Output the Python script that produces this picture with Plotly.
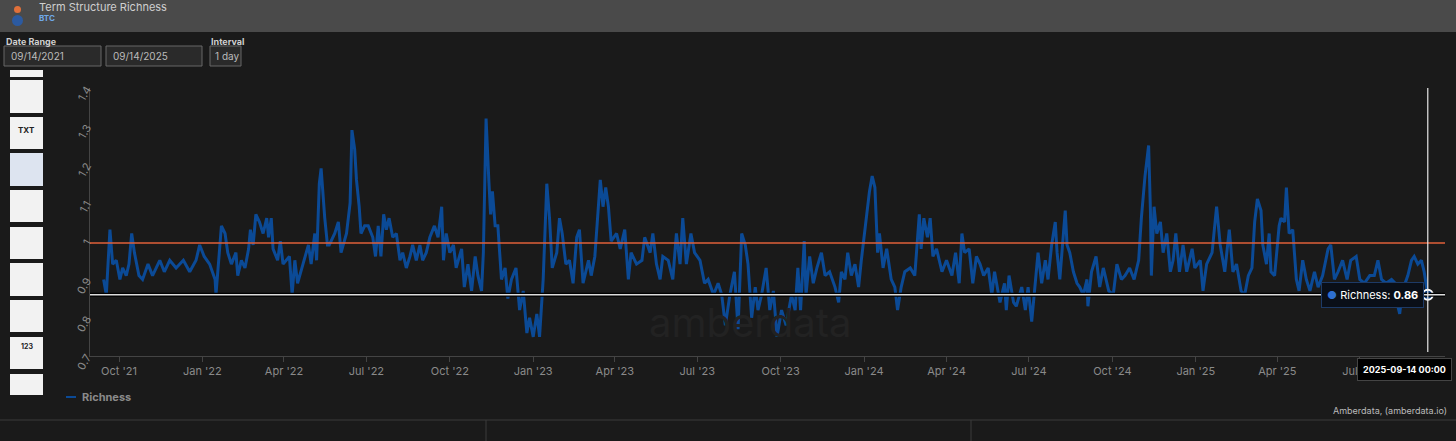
import pandas as pd
import plotly.graph_objects as go

start_date = "2021-09-14"
days = [0,3,7,10,14,18,21,25,28,31,34,39,43,49,54,62,67,73,80,88,95,102,106,111,117,123,124,130,134,137,141,146,148,152,156,160,162,165,168,172,176,180,182,185,187,192,195,198,205,208,211,214,220,226,229,233,235,238,240,244,247,
 249,255,259,262,268,272,274,277,279,282,284,288,292,297,300,303,306,309,312,315,319,323,327,330,334,338,341,345,349,352,356,360,365,369,373,375,378,382,386,389,395,398,402,406,410,413,417,419,422,425,427,429,432,435,439,443,446,450,455,459,463,467,470,474,478,481,485,489,492,495,
 500,503,506,510,514,518,522,525,529,535,538,542,548,551,554,557,560,566,570,575,579,582,588,594,597,603,606,610,614,617,623,628,632,636,639,643,648,652,658,663,667,673,678,682,686,691,696,700,704,708,711,715,719,722,726,731,735,739,743,748,
 753,759,763,766,769,773,775,779,783,787,792,796,801,807,811,814,818,821,825,829,833,836,841,845,848,851,854,856,860,864,869,873,876,880,884,890,895,900,902,905,909,912,915,919,925,930,936,940,944,947,950,955,959,963,967,971,976,980,983,989,994,996,999,1004,
 1007,1013,1017,1020,1024,1029,1031,1035,1039,1042,1046,1050,1052,1055,1061,1063,1066,1070,1074,1077,1081,1085,1086,1090,1095,1099,1103,1109,1114,1118,1123,1127,1132,1137,1142,1145,1149,1153,1155,1156,1159,1162,1166,1169,1173,1177,1180,1183,1187,1191,1195,1201,1204,1210,1213,1217,1223,1228,1232,1237,1242,1246,1250,1255,1259,1263,
 1267,1270,1273,1277,1279,1283,1286,1288,1292,1297,1299,1303,1305,1308,1312,1316,1319,1323,1327,1331,1336,1340,1345,1351,1354,1358,1362,1367,1372,1376,1382,1386,1391,1397,1402,1406,1410,1415,1421,1425,1428,1430,1433,1439,1443,1446,1450,1454,1457,1461]
richness = [0.90,0.86,1.03,0.94,0.95,0.90,0.93,0.91,0.94,1.02,0.97,0.91,0.90,0.94,0.91,0.95,0.92,0.95,0.93,0.95,0.92,0.95,0.99,0.96,0.94,0.90,0.86,1.04,1.02,0.97,0.94,0.97,0.91,0.95,0.93,0.98,1.03,0.99,1.07,1.05,1.02,1.06,1.01,1.06,0.98,0.95,1.00,0.94,0.96,0.86,0.95,0.89,0.94,0.99,0.94,1.02,0.95,1.15,1.19,1.06,0.99,
 0.99,1.02,1.05,0.97,1.02,1.10,1.29,1.24,1.16,1.09,1.02,1.04,1.04,1.01,0.96,1.04,0.96,1.07,1.03,1.06,1.01,1.02,0.95,0.97,0.93,0.96,0.99,0.95,0.99,0.95,0.97,1.01,1.04,1.01,1.09,0.95,1.02,0.97,0.99,0.93,0.98,0.88,0.94,0.87,0.96,0.91,0.87,0.97,1.32,1.16,1.07,1.13,1.04,1.04,0.90,0.93,0.85,0.90,0.93,0.82,0.87,0.76,0.80,0.75,0.81,0.75,0.90,1.15,1.06,0.93,
 0.97,1.06,1.02,0.94,0.95,0.89,1.01,1.03,0.89,0.95,0.91,0.96,1.16,1.09,1.14,1.09,1.00,1.02,0.98,1.03,0.90,0.97,0.94,0.95,1.01,0.97,1.02,0.94,0.90,0.96,0.95,0.90,1.02,0.94,1.06,0.94,1.02,0.97,0.95,0.89,0.90,0.86,0.89,0.86,0.78,0.86,0.92,0.77,1.02,0.99,0.94,0.80,0.88,0.82,0.86,0.93,0.82,0.87,0.75,0.82,
 0.78,0.86,0.82,0.93,0.82,1.00,0.86,0.96,0.89,0.93,0.97,0.91,0.92,0.88,0.84,0.92,0.90,0.97,0.91,0.94,0.88,0.95,1.05,1.13,1.17,1.14,0.97,1.02,0.93,0.98,0.90,0.88,0.82,0.88,0.92,0.93,0.91,1.07,0.98,1.06,1.01,1.06,0.96,0.98,0.92,0.95,0.91,0.97,0.89,1.02,0.97,0.98,0.89,0.96,0.94,0.91,0.93,0.86,0.92,0.84,0.89,0.82,0.91,0.84,
 0.83,0.88,0.82,0.88,0.79,0.92,0.97,0.89,0.95,0.90,0.99,1.05,0.97,0.90,1.08,0.99,0.97,0.92,0.89,0.88,0.86,0.90,0.83,0.92,0.96,0.88,0.93,0.87,0.86,0.94,0.90,0.91,0.93,0.90,0.95,1.06,1.17,1.25,1.08,0.91,1.09,1.02,1.05,0.97,1.02,0.92,0.95,1.02,0.92,0.99,0.92,0.98,0.93,0.95,0.87,0.94,0.97,1.09,0.99,0.92,1.03,0.92,0.94,0.87,0.86,0.91,
 0.93,1.05,1.11,1.08,0.99,0.94,1.02,0.92,0.91,1.04,1.06,1.05,1.14,1.02,1.03,0.90,0.87,0.95,0.90,0.87,0.92,0.88,0.91,0.98,0.99,0.90,0.92,0.95,0.90,0.95,0.96,0.90,0.89,0.91,0.91,0.95,0.90,0.89,0.90,0.89,0.83,0.81,0.87,0.91,0.95,0.96,0.94,0.95,0.92,0.86]
upper_band = 0.995
lower_band = 0.86
x_ticks = ["2021-10-01","2022-01-01","2022-04-01","2022-07-01","2022-10-01","2023-01-01","2023-04-01","2023-07-01","2023-10-01","2024-01-01","2024-04-01","2024-07-01","2024-10-01","2025-01-01","2025-04-01","2025-07-01"]
x_tick_labels = ["Oct '21","Jan '22","Apr '22","Jul '22","Oct '22","Jan '23","Apr '23","Jul '23","Oct '23","Jan '24","Apr '24","Jul '24","Oct '24","Jan '25","Apr '25","Jul '25"]
y_ticks = [0.7,0.8,0.9,1.0,1.1,1.2,1.3,1.4]
y_tick_labels = ["0.7","0.8","0.9","1","1.1","1.2","1.3","1.4"]

dates = pd.to_datetime(start_date) + pd.to_timedelta(days, unit="D")

W, H = 1456, 441
L, R, T, B = 90, 11, 88, 85
PW, PH = W - L - R, H - T - B
def px(x): return (x - L) / PW
def py(y): return (H - B - y) / PH

fig = go.Figure()
fig.add_trace(go.Scatter(x=dates, y=richness, mode="lines", name="Richness",
                         line=dict(color="#0b4a96", width=3), showlegend=False))
fig.add_trace(go.Scatter(x=[dates[-1]], y=[richness[-1]], mode="markers", showlegend=False,
                         marker=dict(size=10, color="#0b3a78", line=dict(color="white", width=2))))

shapes = []
def rect(x0, y0, x1, y1, fill, line=None, lw=1):
    shapes.append(dict(type="rect", xref="paper", yref="paper", x0=px(x0), x1=px(x1), y0=py(y1), y1=py(y0),
                       fillcolor=fill, line=dict(color=line or fill, width=lw if line else 0), layer="below"))
def hline(x0, x1, y, color, w=1):
    shapes.append(dict(type="line", xref="paper", yref="paper", x0=px(x0), x1=px(x1), y0=py(y), y1=py(y),
                       line=dict(color=color, width=w)))
def vline(x, y0, y1, color, w=1):
    shapes.append(dict(type="line", xref="paper", yref="paper", x0=px(x), x1=px(x), y0=py(y0), y1=py(y1),
                       line=dict(color=color, width=w)))

rect(0, 0, W, 32, "#4a4a4a")
rect(4, 46, 101, 66, "#2a2a2a", "#666")
rect(106, 46, 202, 66, "#2a2a2a", "#666")
rect(210, 46, 241, 66, "#2a2a2a", "#666")
for y0, y1 in [(70, 77), (80, 113), (117, 149), (153, 186), (190, 222), (227, 259), (263, 296), (300, 332), (337, 369), (374, 395)]:
    rect(10, y0, 43, y1, "#f2f2f2" if y0 != 153 else "#dde4f0")
hline(0, W, 420, "#3a3a3a", 1)
vline(486, 420, 441, "#3a3a3a")
vline(971, 420, 441, "#3a3a3a")
hline(66, 76, 397, "#0b4a96", 2)
shapes.append(dict(type="circle", xref="paper", yref="paper", x0=px(12), x1=px(23), y0=py(26), y1=py(15),
                   fillcolor="#2c5aa0", line=dict(width=0)))
shapes.append(dict(type="circle", xref="paper", yref="paper", x0=px(14), x1=px(21), y0=py(13), y1=py(6),
                   fillcolor="#e0703a", line=dict(width=0)))
shapes.append(dict(type="line", xref="paper", yref="y", x0=0, x1=1, y0=lower_band, y1=lower_band,
                   line=dict(color="#000000", width=4)))
shapes.append(dict(type="line", xref="paper", yref="y", x0=0, x1=1, y0=lower_band, y1=lower_band,
                   line=dict(color="#dddddd", width=1.5)))
shapes.append(dict(type="line", xref="paper", yref="y", x0=0, x1=1, y0=upper_band, y1=upper_band,
                   line=dict(color="#e0603a", width=1.5)))
shapes.append(dict(type="line", xref="x", yref="paper", x0=dates[-1], x1=dates[-1], y0=py(352), y1=py(88),
                   line=dict(color="#e8e8e8", width=1.2)))

ann = []
def text(x, y, s, size=11, color="#bbbbbb", anchor="left", bold=False, **kw):
    ann.append(dict(xref="paper", yref="paper", x=px(x), y=py(y), text=f"<b>{s}</b>" if bold else s,
                    showarrow=False, xanchor=anchor, yanchor="middle", font=dict(size=size, color=color), **kw))
text(37, 7, "Term Structure Richness", 11, "#cfcfcf")
text(37, 18, "BTC", 8, "#6fa8e8", bold=True)
text(4, 41, "Date Range", 9, "#cfcfcf", bold=True)
text(209, 41, "Interval", 9, "#cfcfcf", bold=True)
text(9, 56, "09/14/2021", 10, "#bbbbbb")
text(111, 56, "09/14/2025", 10, "#bbbbbb")
text(213, 56, "1 day", 10, "#bbbbbb")
text(26.5, 130, "TXT", 8, "#222", anchor="center", bold=True)
text(26.5, 346, "123", 7, "#222", anchor="center", bold=True)
text(80, 397, "Richness", 11, "#8a8a8a", bold=True)
text(1449, 410, "Amberdata, (amberdata.io)", 9, "#bbbbbb", anchor="right")
text(750, 322, "amberdata", 40, "#222222", anchor="center")
text(1372, 295, "<span style='color:#2d6fd0'>●</span> Richness: <b>0.86</b>", 11, "#ffffff", anchor="center",
     bgcolor="#0a0f18", bordercolor="#1d3a66", borderwidth=1, borderpad=5)
text(1404, 369, "2025-09-14 00:00", 9, "#ffffff", anchor="center", bold=True,
     bgcolor="#000000", bordercolor="#444", borderwidth=1, borderpad=5)

fig.update_layout(
    width=W, height=H, margin=dict(l=L, r=R, t=T, b=B),
    paper_bgcolor="#1a1a1a", plot_bgcolor="#1a1a1a",
    font=dict(family="Inter, Liberation Sans, sans-serif", color="#8a8a8a", size=11),
    shapes=shapes, annotations=ann, showlegend=False,
    xaxis=dict(range=["2021-08-30", "2025-10-03"], tickvals=x_ticks, ticktext=x_tick_labels,
               showgrid=False, zeroline=False, showline=True, linecolor="#444", ticks="outside",
               ticklen=5, tickcolor="#444", tickfont=dict(color="#8a8a8a", size=11)),
    yaxis=dict(range=[0.7, 1.4], tickvals=y_ticks, ticktext=y_tick_labels, showgrid=False,
               zeroline=False, showline=True, linecolor="#444", tickangle=-60,
               tickfont=dict(color="#8a8a8a", size=11)),
)
fig.write_html("out.html", config={"displayModeBar": False},
               post_script="document.body.style.margin='0';document.body.style.overflow='hidden';document.body.style.background='#1a1a1a';")
